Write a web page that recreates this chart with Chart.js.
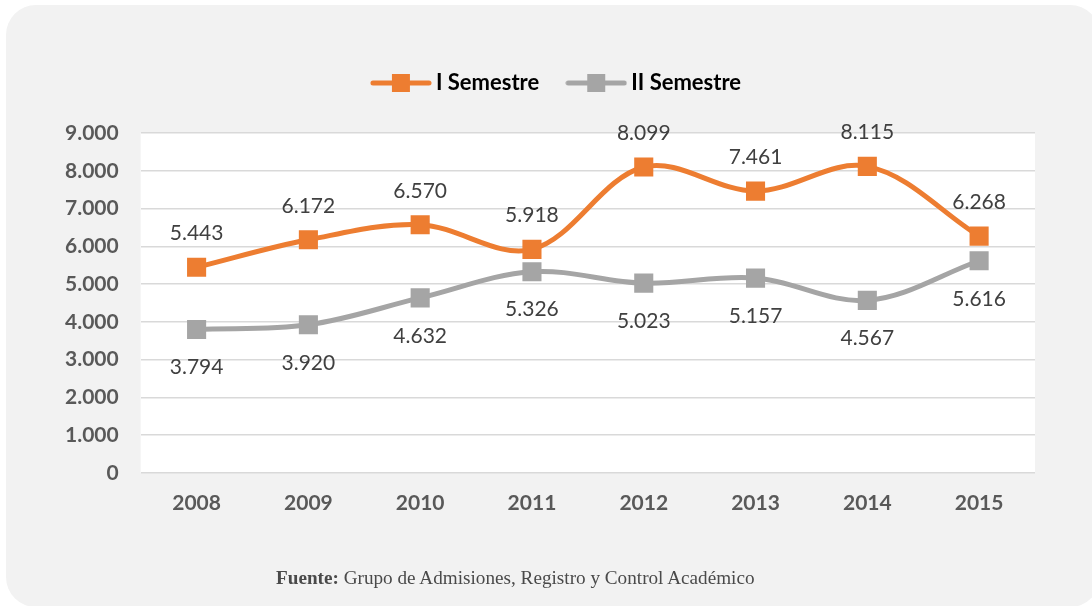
<!DOCTYPE html>
<html>
<head>
<meta charset="utf-8">
<script src="https://cdn.jsdelivr.net/npm/chart.js@4.4.1/dist/chart.umd.min.js"></script>
<style>
  html, body { margin: 0; padding: 0; background: #ffffff; }
  body { width: 1092px; height: 606px; position: relative; overflow: hidden; }
  .panel {
    position: absolute; left: 6px; top: 5px; width: 1094px; height: 602px;
    background: #f2f2f2; border-radius: 30px;
  }
  .wrap { position: absolute; left: 0; top: 0; width: 1092px; height: 606px; }
  .source {
    position: absolute; left: 276px; top: 567px; white-space: nowrap;
    font-family: "Liberation Serif", "DejaVu Serif", serif; font-size: 19.2px; color: #4a4a4a;
  }
  .source b { font-weight: bold; }
</style>
</head>
<body>
<div class="panel"></div>
<div class="wrap"><canvas id="chart" width="1092" height="606"></canvas></div>
<div class="source"><b>Fuente:</b> Grupo de Admisiones, Registro y Control Académico</div>
<script>
// data
const years = ['2008', '2009', '2010', '2011', '2012', '2013', '2014', '2015'];
const semestre1 = [5443, 6172, 6570, 5918, 8099, 7461, 8115, 6268];
const semestre2 = [3794, 3920, 4632, 5326, 5023, 5157, 4567, 5616];
const yTickLabels = ['0', '1.000', '2.000', '3.000', '4.000', '5.000', '6.000', '7.000', '8.000', '9.000'];

const orange = '#ed7d31';
const gray = '#a5a5a5';

// number like 5.443
const fmt = v => String(v).replace(/\B(?=(\d{3})+(?!\d))/g, '.');

// legend symbol: line with a square in the middle
function legendIcon(color) {
  const c = document.createElement('canvas');
  c.width = 62; c.height = 20;
  const g = c.getContext('2d');
  g.strokeStyle = color;
  g.lineWidth = 5;
  g.lineCap = 'round';
  g.beginPath();
  g.moveTo(3, 10);
  g.lineTo(59, 10);
  g.stroke();
  g.fillStyle = color;
  g.fillRect(22, 1, 18, 18);
  return c;
}

const plotBg = {
  id: 'plotBg',
  beforeDraw(chart) {
    const { ctx, chartArea: a } = chart;
    ctx.save();
    ctx.fillStyle = '#ffffff';
    ctx.fillRect(a.left, a.top, a.right - a.left, a.bottom - a.top);
    ctx.restore();
  }
};

// extra room under the legend, and nudge it right a little
const legendGap = {
  id: 'legendGap',
  beforeInit(chart) {
    const fit = chart.legend.fit;
    chart.legend.fit = function () {
      fit.call(this);
      this.height += 29;
    };
  },
  afterLayout(chart) {
    chart.legend.left += 40;
  }
};

const valueLabels = {
  id: 'valueLabels',
  afterDatasetsDraw(chart) {
    const ctx = chart.ctx;
    ctx.save();
    ctx.font = '21px Lato, "Open Sans", sans-serif';
    ctx.fillStyle = '#404040';
    ctx.textAlign = 'center';
    ctx.textBaseline = 'middle';
    chart.data.datasets.forEach((ds, i) => {
      const meta = chart.getDatasetMeta(i);
      const off = i === 0 ? -34 : 38;
      meta.data.forEach((pt, j) => {
        ctx.fillText(fmt(ds.data[j]), pt.x, pt.y + off);
      });
    });
    ctx.restore();
  }
};

const tickFont = { family: 'Lato, "Open Sans", sans-serif', size: 21, weight: 'bold' };

new Chart(document.getElementById('chart'), {
  type: 'line',
  data: {
    labels: years,
    datasets: [
      {
        label: 'I Semestre',
        data: semestre1,
        borderColor: orange,
        backgroundColor: orange,
        borderWidth: 5,
        tension: 0.35,
        pointStyle: 'rect',
        pointRadius: 13.5,
        pointBorderWidth: 0,
        pointBackgroundColor: orange
      },
      {
        label: 'II Semestre',
        data: semestre2,
        borderColor: gray,
        backgroundColor: gray,
        borderWidth: 5,
        tension: 0.35,
        pointStyle: 'rect',
        pointRadius: 13.5,
        pointBorderWidth: 0,
        pointBackgroundColor: gray
      }
    ]
  },
  options: {
    responsive: false,
    animation: false,
    layout: { padding: { left: 43, right: 57, top: 39, bottom: 72 } },
    plugins: {
      legend: {
        position: 'top',
        labels: {
          usePointStyle: true,
          pointStyleWidth: 48,
          padding: 33,
          color: '#595959',
          font: { family: 'Lato, "Open Sans", sans-serif', size: 22, weight: 'bold' },
          generateLabels: chart => chart.data.datasets.map((ds, i) => ({
            text: ds.label,
            pointStyle: legendIcon(ds.borderColor),
            fillStyle: ds.borderColor,
            strokeStyle: ds.borderColor,
            lineWidth: 0,
            hidden: false,
            datasetIndex: i
          }))
        }
      },
      tooltip: { enabled: false }
    },
    scales: {
      x: {
        offset: true,
        grid: { display: false, drawTicks: false },
        border: { display: false },
        ticks: { color: '#595959', font: tickFont, padding: 18 }
      },
      y: {
        min: 0,
        max: 9000,
        grid: { color: '#d9d9d9', lineWidth: 1.5, drawTicks: false },
        border: { display: false },
        ticks: {
          stepSize: 1000,
          color: '#595959',
          font: tickFont,
          padding: 22,
          callback: (v, i) => yTickLabels[i]
        }
      }
    }
  },
  plugins: [plotBg, legendGap, valueLabels]
});
</script>
</body>
</html>
